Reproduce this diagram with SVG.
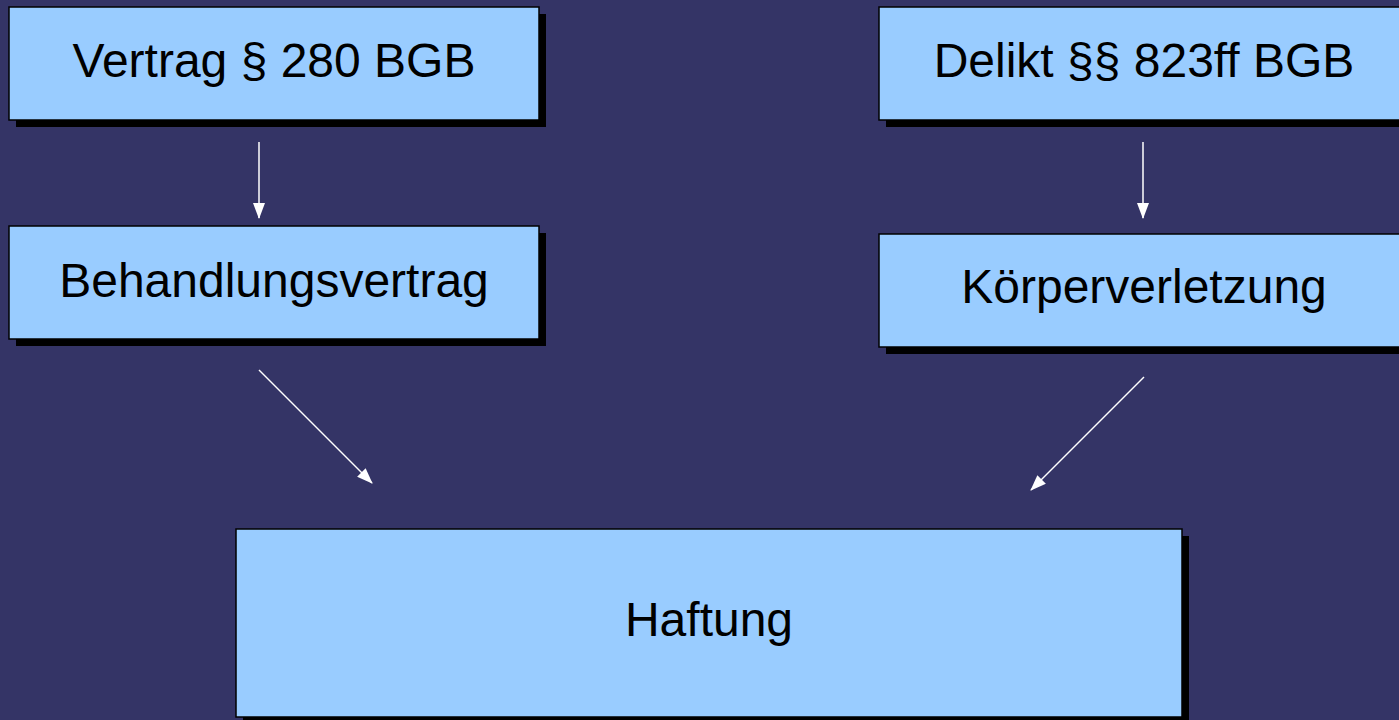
<svg xmlns="http://www.w3.org/2000/svg" width="1399" height="720" viewBox="0 0 1399 720">
<style>
.box{fill:#99ccff;stroke:#000;stroke-width:1.5}
.sh{fill:#000}
.lbl{font-family:"Liberation Sans",Arial,sans-serif;font-size:48px;fill:#000;text-anchor:middle}
.con{stroke:#fff;stroke-width:1.5;fill:none;marker-end:url(#ah)}
</style>
<defs>
<marker id="ah" viewBox="0 0 16 12" refX="15" refY="6" markerWidth="16" markerHeight="12" markerUnits="userSpaceOnUse" orient="auto">
<path d="M0,0 L16,6 L0,12 Z" fill="#fff"/>
</marker>
</defs>
<rect width="1399" height="720" fill="#343466"/>
<g id="n1">
<rect class="sh" x="16" y="14" width="530" height="113"/>
<rect class="box" x="9" y="7" width="530" height="113"/>
<text class="lbl" x="274" y="77">Vertrag § 280 BGB</text>
</g>
<g id="n2">
<rect class="sh" x="16" y="233" width="530" height="113"/>
<rect class="box" x="9" y="226" width="530" height="113"/>
<text class="lbl" x="274" y="297">Behandlungsvertrag</text>
</g>
<g id="n3">
<rect class="sh" x="886" y="14" width="530" height="113"/>
<rect class="box" x="879" y="7" width="530" height="113"/>
<text class="lbl" x="1144" y="77">Delikt §§ 823ff BGB</text>
</g>
<g id="n4">
<rect class="sh" x="886" y="241" width="530" height="113"/>
<rect class="box" x="879" y="234" width="530" height="113"/>
<text class="lbl" x="1144" y="303">Körperverletzung</text>
</g>
<g id="n5">
<rect class="sh" x="243" y="536" width="946" height="188"/>
<rect class="box" x="236" y="529" width="946" height="188"/>
<text class="lbl" x="709" y="636">Haftung</text>
</g>
<g id="connectors">
<line class="con" x1="259" y1="142" x2="259" y2="218"/>
<line class="con" x1="1143" y1="142" x2="1143" y2="218"/>
<line class="con" x1="259" y1="370" x2="372" y2="483"/>
<line class="con" x1="1144" y1="377" x2="1031" y2="490"/>
</g>
</svg>
